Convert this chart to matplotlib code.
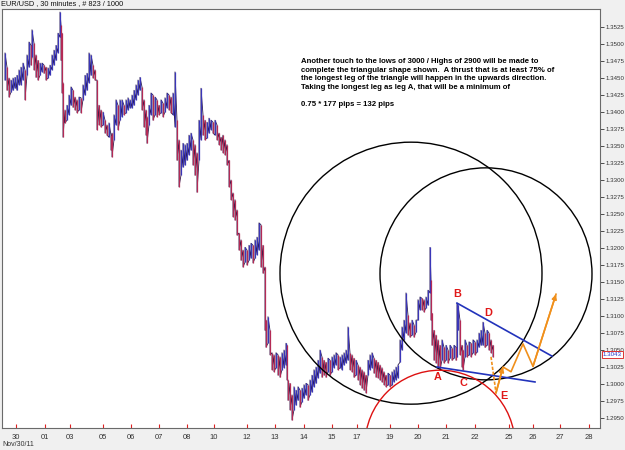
import matplotlib
matplotlib.use("Agg")
import matplotlib.pyplot as plt
from matplotlib.patches import Ellipse
import matplotlib.transforms as mtransforms

# ---------------- data ----------------
bar_x = [5, 7, 9, 11, 13, 15, 17, 19, 21, 23, 25, 27, 29, 31, 32, 34, 36, 38, 40, 42, 44, 46, 48, 50, 52, 54, 56, 58, 60, 61,
         62, 63, 65, 67, 69, 71, 73, 75, 77, 79, 81, 83, 85, 87, 89, 91, 93, 95, 97, 99, 101, 103, 105, 107, 109, 111, 112, 114, 116, 118,
         120, 122, 124, 126, 128, 130, 132, 134, 136, 138, 140, 142, 144, 146, 147, 149, 151, 153, 155, 157, 159, 161, 163, 165, 167, 169, 171, 173, 175, 177,
         179, 181, 183, 185, 187, 189, 191, 193, 195, 197, 199, 201, 203, 205, 207, 209, 211, 213, 215, 217, 219, 221, 223, 225, 227, 229, 231, 233, 235, 237,
         239, 241, 243, 245, 247, 249, 251, 253, 255, 257, 259, 261, 263, 265, 266, 268, 270, 272, 274, 276, 278, 280, 282, 284, 286, 287, 288, 290, 292, 294,
         296, 298, 300, 302, 304, 306, 308, 310, 312, 314, 316, 318, 320, 322, 324, 326, 328, 330, 332, 334, 336, 338, 340, 342, 344, 346, 348, 350, 352, 354,
         356, 358, 360, 362, 364, 366, 368, 370, 372, 374, 376, 378, 380, 382, 384, 386, 388, 390, 392, 394, 396, 398, 400, 402, 404, 406, 408, 410, 412, 414,
         416, 418, 420, 422, 424, 426, 428, 430, 431, 432, 434, 436, 438, 440, 442, 444, 446, 448, 450, 452, 454, 456, 457, 458, 460, 462, 463, 465, 467, 469,
         471, 473, 475, 477, 479, 481, 483, 485, 487, 489, 491, 493]
bar_high = [1.3487, 1.3466, 1.3450, 1.3447, 1.3450, 1.3451, 1.3454, 1.3462, 1.3466, 1.3472, 1.3462, 1.3484, 1.3503, 1.3498, 1.3521, 1.3501, 1.3484, 1.3476, 1.3472, 1.3472,
            1.3469, 1.3466, 1.3465, 1.3469, 1.3484, 1.3491, 1.3498, 1.3516, 1.3547, 1.3528, 1.3516, 1.3443, 1.3403, 1.3410, 1.3425, 1.3437, 1.3432, 1.3422, 1.3418, 1.3422,
            1.3421, 1.3440, 1.3454, 1.3457, 1.3487, 1.3484, 1.3469, 1.3462, 1.3447, 1.3410, 1.3403, 1.3400, 1.3388, 1.3381, 1.3384, 1.3366, 1.3369, 1.3396, 1.3418, 1.3410,
            1.3418, 1.3418, 1.3410, 1.3418, 1.3421, 1.3418, 1.3425, 1.3432, 1.3440, 1.3447, 1.3451, 1.3437, 1.3418, 1.3403, 1.3393, 1.3410, 1.3428, 1.3425, 1.3422, 1.3418,
            1.3410, 1.3418, 1.3413, 1.3421, 1.3428, 1.3425, 1.3422, 1.3428, 1.3459, 1.3388, 1.3359, 1.3344, 1.3354, 1.3352, 1.3354, 1.3366, 1.3369, 1.3359, 1.3352, 1.3340,
            1.3388, 1.3435, 1.3396, 1.3388, 1.3385, 1.3391, 1.3388, 1.3385, 1.3388, 1.3381, 1.3369, 1.3363, 1.3366, 1.3359, 1.3352, 1.3329, 1.3300, 1.3281, 1.3271, 1.3256,
            1.3222, 1.3212, 1.3197, 1.3201, 1.3197, 1.3204, 1.3207, 1.3204, 1.3212, 1.3216, 1.3237, 1.3234, 1.3204, 1.3172, 1.3094, 1.3099, 1.3079, 1.3046, 1.3043, 1.3046,
            1.3043, 1.3040, 1.3046, 1.3050, 1.3060, 1.3057, 1.3006, 1.3001, 1.2984, 1.2996, 1.2991, 1.2996, 1.2991, 1.2994, 1.2999, 1.3001, 1.2999, 1.3006, 1.3013, 1.3021,
            1.3025, 1.3035, 1.3050, 1.3040, 1.3035, 1.3032, 1.3038, 1.3035, 1.3040, 1.3043, 1.3046, 1.3043, 1.3040, 1.3043, 1.3046, 1.3050, 1.3084, 1.3046, 1.3043, 1.3038,
            1.3035, 1.3028, 1.3025, 1.3021, 1.3018, 1.3013, 1.3035, 1.3043, 1.3046, 1.3038, 1.3035, 1.3032, 1.3028, 1.3024, 1.3018, 1.3013, 1.3016, 1.3013, 1.3018, 1.3021,
            1.3025, 1.3028, 1.3065, 1.3084, 1.3094, 1.3134, 1.3101, 1.3090, 1.3094, 1.3087, 1.3094, 1.3124, 1.3128, 1.3126, 1.3124, 1.3128, 1.3138, 1.3201, 1.3153, 1.3104,
            1.3079, 1.3072, 1.3065, 1.3057, 1.3065, 1.3054, 1.3057, 1.3050, 1.3057, 1.3053, 1.3057, 1.3054, 1.3119, 1.3116, 1.3094, 1.3057, 1.3050, 1.3065, 1.3057, 1.3062,
            1.3060, 1.3065, 1.3062, 1.3065, 1.3075, 1.3079, 1.3091, 1.3075, 1.3079, 1.3075, 1.3065, 1.3057]
bar_low = [1.3447, 1.3432, 1.3422, 1.3429, 1.3432, 1.3435, 1.3432, 1.3440, 1.3440, 1.3447, 1.3418, 1.3454, 1.3466, 1.3469, 1.3481, 1.3462, 1.3451, 1.3447, 1.3454, 1.3459,
           1.3457, 1.3447, 1.3450, 1.3454, 1.3462, 1.3469, 1.3476, 1.3487, 1.3510, 1.3476, 1.3428, 1.3363, 1.3384, 1.3388, 1.3396, 1.3410, 1.3407, 1.3403, 1.3399, 1.3403,
           1.3399, 1.3418, 1.3425, 1.3432, 1.3443, 1.3454, 1.3450, 1.3447, 1.3374, 1.3381, 1.3378, 1.3381, 1.3369, 1.3366, 1.3363, 1.3344, 1.3334, 1.3359, 1.3381, 1.3374,
           1.3388, 1.3393, 1.3396, 1.3399, 1.3403, 1.3406, 1.3406, 1.3410, 1.3418, 1.3425, 1.3432, 1.3403, 1.3378, 1.3366, 1.3354, 1.3381, 1.3396, 1.3388, 1.3396, 1.3393,
           1.3396, 1.3399, 1.3393, 1.3400, 1.3406, 1.3403, 1.3399, 1.3396, 1.3378, 1.3329, 1.3290, 1.3307, 1.3319, 1.3322, 1.3329, 1.3337, 1.3344, 1.3322, 1.3307, 1.3282,
           1.3329, 1.3359, 1.3366, 1.3359, 1.3362, 1.3369, 1.3374, 1.3369, 1.3366, 1.3359, 1.3352, 1.3344, 1.3340, 1.3337, 1.3322, 1.3290, 1.3271, 1.3246, 1.3241, 1.3219,
           1.3197, 1.3182, 1.3172, 1.3179, 1.3175, 1.3182, 1.3185, 1.3178, 1.3185, 1.3190, 1.3197, 1.3172, 1.3163, 1.3079, 1.3054, 1.3060, 1.3043, 1.3021, 1.3018, 1.3024,
           1.3013, 1.3010, 1.3021, 1.3024, 1.3028, 1.3006, 1.2976, 1.2962, 1.2947, 1.2962, 1.2969, 1.2976, 1.2966, 1.2974, 1.2979, 1.2984, 1.2976, 1.2984, 1.2988, 1.2996,
           1.3001, 1.3009, 1.3016, 1.3010, 1.3013, 1.3010, 1.3018, 1.3013, 1.3018, 1.3024, 1.3028, 1.3021, 1.3024, 1.3021, 1.3028, 1.3031, 1.3035, 1.3021, 1.3018, 1.3010,
           1.3013, 1.3006, 1.2999, 1.2994, 1.2991, 1.2987, 1.3013, 1.3021, 1.3024, 1.3016, 1.3010, 1.3009, 1.3006, 1.3003, 1.2999, 1.2996, 1.2999, 1.2996, 1.2999, 1.3003,
           1.3006, 1.3009, 1.3032, 1.3050, 1.3065, 1.3075, 1.3072, 1.3069, 1.3072, 1.3069, 1.3076, 1.3094, 1.3109, 1.3109, 1.3106, 1.3112, 1.3116, 1.3134, 1.3094, 1.3057,
           1.3035, 1.3031, 1.3025, 1.3021, 1.3035, 1.3031, 1.3035, 1.3031, 1.3038, 1.3035, 1.3038, 1.3035, 1.3040, 1.3079, 1.3043, 1.3025, 1.3021, 1.3040, 1.3040, 1.3043,
           1.3040, 1.3046, 1.3043, 1.3047, 1.3054, 1.3057, 1.3057, 1.3054, 1.3057, 1.3050, 1.3046, 1.3040]

day_tick_pos = [16, 45, 70, 103, 131, 159, 187, 214, 247, 275, 304, 332, 357, 390, 418, 446, 475, 509, 533, 560, 589]
day_tick_labels = ["30", "01", "03", "05", "06", "07", "08", "10", "12", "13", "14", "15", "17", "19", "20", "21", "22", "25", "26", "27", "28"]
price_ticks = [1.2950, 1.2975, 1.3000, 1.3025, 1.3050, 1.3075, 1.3100, 1.3125, 1.3150, 1.3175, 1.3200, 1.3225,
               1.3250, 1.3275, 1.3300, 1.3325, 1.3350, 1.3375, 1.3400, 1.3425, 1.3450, 1.3475, 1.3500, 1.3525]
last_price = 1.3043

circle_x = [411, 486, 440]
circle_y = [1.3163, 1.3162, 1.2910]
circle_r = [131, 106, 75]
circle_colors = ["black", "black", "#dd1111"]

upper_line_x = [457, 552]
upper_line_y = [1.3119, 1.3041]
lower_line_x = [437, 535]
lower_line_y = [1.3025, 1.3003]

orange_x = [491, 496, 503, 511, 523, 533, 556]
orange_y = [1.3040, 1.2987, 1.3025, 1.3018, 1.3059, 1.3026, 1.3132]

point_labels = ["A", "B", "C", "D", "E"]
point_x = [438, 457, 463, 488, 504]
point_y = [1.3010, 1.3132, 1.3001, 1.3104, 1.2982]

note_text = ("Another touch to the lows of 3000 / Highs of 2900 will be made to\n"
             "complete the triangular shape shown.  A thrust that is at least 75% of\n"
             "the longest leg of the triangle will happen in the upwards direction.\n"
             "Taking the longest leg as leg A, that will be a minimum of\n"
             "\n"
             "0.75 * 177 pips = 132 pips")

# ---------------- figure ----------------
W, H = 625, 450
fig = plt.figure(figsize=(W / 100, H / 100), dpi=100, facecolor="#f0f0f0")
ax = fig.add_axes([2 / W, (H - 428) / H, 598 / W, 419 / H])
ax.set_facecolor("white")
ylo, yhi = 1.29353, 1.35515
ax.set_xlim(2, 600)
ax.set_ylim(ylo, yhi)

# price path (zig-zag through each bar) and coloured bars
path_x, path_y, cols = [], [], []
prev_mid = None
for x, h, l in zip(bar_x, bar_high, bar_low):
    mid = (h + l) / 2
    up = prev_mid is None or mid >= prev_mid
    if up:
        path_x += [x, x]; path_y += [l, h]; cols.append("#3a36b8")
    else:
        path_x += [x, x]; path_y += [h, l]; cols.append("#b42a55")
    prev_mid = mid
ax.plot(path_x, path_y, color="#2a1a4a", lw=0.6, zorder=2)
ax.vlines(bar_x, bar_low, bar_high, colors=cols, lw=0.9, zorder=3)

# circles (radius given in bar slots, converted through the axes scaling)
ax_w_px = 598.0
ax_h_px = 419.0
x_per_px = (600 - 2) / ax_w_px
y_per_px = (yhi - ylo) / ax_h_px
for cx, cy, r, c in zip(circle_x, circle_y, circle_r, circle_colors):
    e = Ellipse((cx, cy), 2 * r, 2 * r / x_per_px * y_per_px, fill=False,
                edgecolor=c, lw=1.0, zorder=4)
    ax.add_patch(e)

ax.plot(upper_line_x, upper_line_y, color="#2233bb", lw=1.2, zorder=5)
ax.plot(lower_line_x, lower_line_y, color="#2233bb", lw=1.2, zorder=5)

orange = "#f0901c"
ax.plot(orange_x[:2], orange_y[:2], color=orange, lw=1.2, ls=(0, (2, 1)), zorder=6)
ax.plot(orange_x[1:], orange_y[1:], color=orange, lw=1.2, zorder=6)
for i0, i1 in [(1, 2), (5, 6)]:
    ax.annotate("", xy=(orange_x[i1], orange_y[i1]), xytext=(orange_x[i0], orange_y[i0]),
                arrowprops=dict(arrowstyle="-|>", color=orange, lw=1.2, mutation_scale=7,
                                shrinkA=0, shrinkB=0), zorder=6)

for t, x, y in zip(point_labels, point_x, point_y):
    ax.text(x, y, t, color="#e01818", fontsize=7.8, fontweight="bold",
            ha="center", va="center", family="Liberation Sans", zorder=7)

# axes styling
for s in ax.spines.values():
    s.set_color("#6a6a6a")
    s.set_linewidth(0.8)
ax.yaxis.tick_right()
ax.set_yticks(price_ticks)
ax.set_yticklabels([f"{v:.4f}" for v in price_ticks])
ax.tick_params(axis="y", direction="out", length=3, width=0.6, color="#333333",
               labelsize=4.4, labelcolor="#333333", pad=0.8)
ax.set_xticks(day_tick_pos)
ax.set_xticklabels(day_tick_labels)
ax.tick_params(axis="x", direction="in", length=3, width=0.8, color="#dd2222",
               labelsize=5.5, labelcolor="#333333", pad=4.5)
for lab in ax.get_yticklabels():
    lab.set_family("Liberation Sans")
for lab in ax.get_xticklabels():
    lab.set_family("Liberation Sans")

# last price box
trans = mtransforms.blended_transform_factory(ax.transAxes, ax.transData)
ax.text(1.005, last_price, f"{last_price:.4f}", transform=trans, color="#2233cc",
        fontsize=4.4, family="Liberation Sans", ha="left",
        va="center", zorder=10,
        bbox=dict(boxstyle="square,pad=0.2", fc="white", ec="#dd3333", lw=0.7), clip_on=False)

# texts
fig.text(301 / W, 1 - 58 / H, note_text, ha="left", va="top", fontsize=5.6,
         fontweight="bold", family=["Liberation Sans Narrow", "Liberation Sans"], linespacing=1.32)
fig.text(1 / W, 1 - 4 / H, "EUR/USD , 30 minutes , # 823 / 1000", ha="left", va="center",
         fontsize=5.3, family="Liberation Sans", color="#111111")
fig.text(2 / W, 1 - 445 / H, "Nov/30/11", ha="left", va="center",
         fontsize=5.0, family="Liberation Sans", color="#333333")

fig.savefig("out.png", dpi=100, facecolor=fig.get_facecolor())
